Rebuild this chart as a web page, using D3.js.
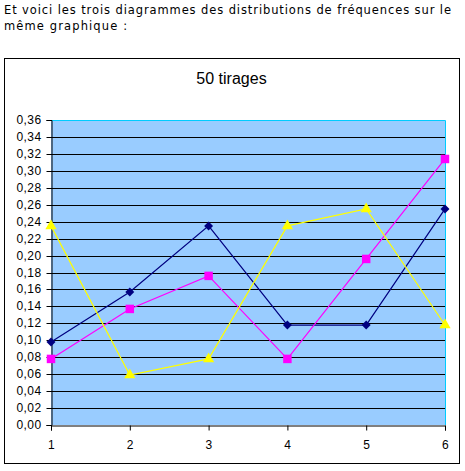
<!DOCTYPE html>
<html>
<head>
<meta charset="utf-8">
<script src="https://cdn.jsdelivr.net/npm/d3@7"></script>
<style>
  html, body { margin: 0; padding: 0; background: #fff; }
  svg { display: block; }
</style>
</head>
<body>
<svg id="chart" width="465" height="471"></svg>
<script>
// Tirages (1..6) and their relative frequencies over 50 draws
const categories = [1, 2, 3, 4, 5, 6];
const seriesBlue = [0.098, 0.157, 0.235, 0.118, 0.118, 0.255];
const seriesMagenta = [0.078, 0.137, 0.176, 0.078, 0.196, 0.314];
const seriesYellow = [0.235, 0.059, 0.078, 0.235, 0.255, 0.118];
const yTicks = d3.range(0, 0.3601, 0.02);
const titleText = "50 tirages";
const introLines = [
  { text: "Et voici les trois diagrammes des distributions de fréquences sur le", width: 447 },
  { text: "même graphique :", width: 123 }
];

const svg = d3.select("#chart");

// Intro text
svg.append("g").selectAll("text").data(introLines).join("text")
  .attr("x", 4)
  .attr("y", (d, i) => 13.5 + i * 16)
  .attr("font-family", "DejaVu Sans, Verdana, sans-serif")
  .attr("font-size", 11.5)
  .attr("fill", "#000")
  .attr("textLength", d => d.width)
  .attr("lengthAdjust", "spacing")
  .text(d => d.text);

// Chart frame
svg.append("rect")
  .attr("x", 4.5).attr("y", 58.5)
  .attr("width", 455).attr("height", 405)
  .attr("fill", "#fff").attr("stroke", "#000").attr("stroke-width", 1);

// Title
svg.append("text")
  .attr("x", 231.5).attr("y", 84)
  .attr("text-anchor", "middle")
  .attr("font-family", "Arial, Liberation Sans, sans-serif")
  .attr("font-size", 16)
  .text(titleText);

const x = d3.scalePoint().domain(categories).range([51, 445]);
const y = d3.scaleLinear().domain([0, 0.36]).range([425, 120]);

const plotL = 51, plotR = 445, plotT = 120, plotB = 425;

// Plot background
svg.append("rect")
  .attr("x", plotL).attr("y", plotT)
  .attr("width", plotR - plotL).attr("height", plotB - plotT)
  .attr("fill", "#99CCFF");

// Horizontal gridlines
svg.append("g").selectAll("line").data(yTicks.slice(1)).join("line")
  .attr("x1", plotL).attr("x2", plotR)
  .attr("y1", d => Math.round(y(d)) + 0.5).attr("y2", d => Math.round(y(d)) + 0.5)
  .attr("stroke", "#000").attr("stroke-width", 1);

// Plot area border (top and right)
svg.append("path")
  .attr("d", `M${plotL},${plotT + 0.5}H${plotR + 0.5}V${plotB}`)
  .attr("fill", "none").attr("stroke", "#00CCFF").attr("stroke-width", 1);

const axisFont = sel => sel
  .attr("font-family", "Arial, Liberation Sans, sans-serif")
  .attr("font-size", 12)
  .attr("letter-spacing", 0.4)
  .attr("fill", "#000");

// Y axis
const fmt = d => d.toFixed(2).replace(".", ",");
const yAxis = svg.append("g")
  .attr("transform", `translate(${plotL + 0.5},0)`)
  .call(d3.axisLeft(y).tickValues(yTicks).tickFormat(fmt).tickSizeOuter(0).tickSize(5).tickPadding(5));
yAxis.select(".domain").attr("stroke", "#000");
yAxis.selectAll(".tick line").attr("stroke", "#000");
yAxis.selectAll("text").call(axisFont);
yAxis.selectAll(".tick").attr("transform", d => `translate(0,${Math.round(y(d)) + 0.5})`);

// X axis
const xAxis = svg.append("g")
  .attr("transform", `translate(0,${plotB + 0.5})`)
  .call(d3.axisBottom(x).tickSizeOuter(0).tickSize(5).tickPadding(10));
xAxis.select(".domain").attr("stroke", "#000");
xAxis.selectAll(".tick line").attr("stroke", "#000");
xAxis.selectAll("text").call(axisFont);

// Series
const series = [
  { values: seriesBlue, color: "#000080", marker: "diamond" },
  { values: seriesMagenta, color: "#FF00FF", marker: "square" },
  { values: seriesYellow, color: "#FFFF00", marker: "triangle" }
];

const line = d3.line().x((d, i) => x(categories[i])).y(d => y(d));

series.forEach(s => {
  svg.append("path")
    .datum(s.values)
    .attr("d", line)
    .attr("fill", "none")
    .attr("stroke", s.color)
    .attr("stroke-width", 1.2);
});

const symbolFor = {
  diamond: d3.symbol().type(d3.symbolSquare).size(40),
  square: d3.symbol().type(d3.symbolSquare).size(72),
  triangle: d3.symbol().type(d3.symbolTriangle).size(55)
};

series.forEach(s => {
  svg.append("g").selectAll("path").data(s.values).join("path")
    .attr("d", symbolFor[s.marker])
    .attr("transform", (d, i) => `translate(${x(categories[i])},${y(d)})` + (s.marker === "diamond" ? " rotate(45)" : ""))
    .attr("fill", s.color);
});
</script>
</body>
</html>
